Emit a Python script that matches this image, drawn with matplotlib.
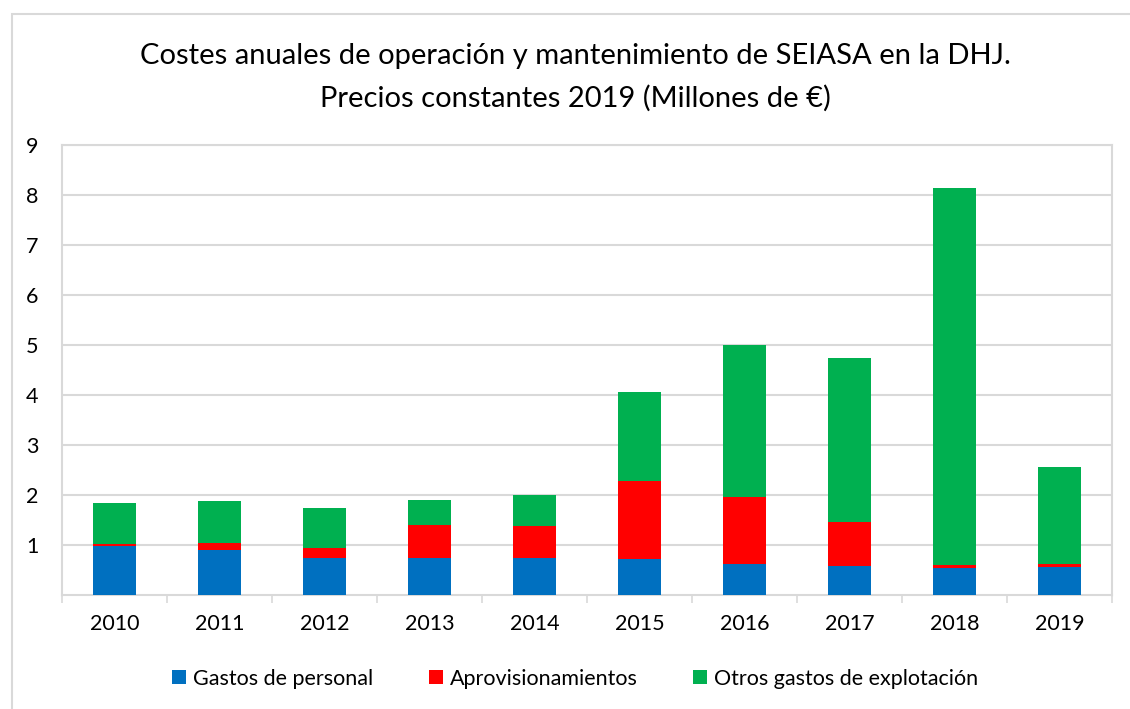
import matplotlib.pyplot as plt
import numpy as np
import pandas as pd
from matplotlib.patches import Rectangle

years = ["2010", "2011", "2012", "2013", "2014", "2015", "2016", "2017", "2018", "2019"]
personal = [0.97, 0.89, 0.73, 0.73, 0.73, 0.71, 0.62, 0.57, 0.53, 0.55]
aprovisionamientos = [0.04, 0.15, 0.20, 0.66, 0.64, 1.56, 1.33, 0.89, 0.07, 0.07]
otros = [0.82, 0.83, 0.81, 0.50, 0.62, 1.78, 3.04, 3.27, 7.53, 1.93]
series_names = ["Gastos de personal", "Aprovisionamientos", "Otros gastos de explotación"]
y_ticks = [1, 2, 3, 4, 5, 6, 7, 8, 9]

plt.rcParams['font.family'] = ['Lato', 'DejaVu Sans']


class StackedCharts:
    def stacked_bar_chart(data):
        """
        draws stacked bar chart
        DataFrame must in shape (*,4): [year, serie1, serie2, serie3]
        """
        fig = plt.figure(figsize=(11.3, 7.09), dpi=100)
        ax = fig.add_axes([0.0549, 0.1608, 0.9292, 0.6347])
        colors = ["#0070c0", "#ff0000", "#00b050"]
        x = np.arange(len(data))
        bottom = np.zeros(len(data))
        for i, name in enumerate(data.columns[1:]):
            ax.bar(x, data[name], 0.41, bottom=bottom, color=colors[i], label=name, zorder=3)
            bottom += data[name].values
        ax.set_xlim(-0.5, len(data) - 0.5)
        ax.set_ylim(0, 9)
        ax.set_yticks(y_ticks)
        ax.set_xticks(x)
        ax.set_xticklabels(data.iloc[:, 0])
        ax.set_xticks(np.arange(-0.5, len(data)), minor=True)
        ax.tick_params(axis="x", which="major", length=0, pad=14, labelsize=15.5)
        ax.tick_params(axis="x", which="minor", length=6, color="#d9d9d9", width=1.2)
        ax.tick_params(axis="y", length=0, pad=17, labelsize=15.5)
        ax.grid(axis="y", color="#d9d9d9", linewidth=1.5, zorder=0)
        for side in ["left", "right", "top", "bottom"]:
            ax.spines[side].set_color("#d9d9d9")
            ax.spines[side].set_linewidth(1.5)
        fig.text(0.509, 0.921, "Costes anuales de operación y mantenimiento de SEIASA en la DHJ.",
                 ha="center", va="center", fontsize=21)
        fig.text(0.509, 0.862, "Precios constantes 2019 (Millones de €)",
                 ha="center", va="center", fontsize=21)
        fig.legend(loc="center", bbox_to_anchor=(0.509, 0.043), ncol=3, frameon=False,
                   fontsize=15.5, handlelength=0.65, handleheight=0.65, handletextpad=0.3,
                   columnspacing=2.6)
        fig.patches.append(Rectangle((0.011, -0.01), 1.0, 0.99, transform=fig.transFigure,
                                     fill=False, edgecolor="#d9d9d9", linewidth=1.5))
        plt.savefig("out.png", dpi=100)


df = pd.DataFrame({"year": years, series_names[0]: personal,
                   series_names[1]: aprovisionamientos, series_names[2]: otros})
StackedCharts.stacked_bar_chart(df)
